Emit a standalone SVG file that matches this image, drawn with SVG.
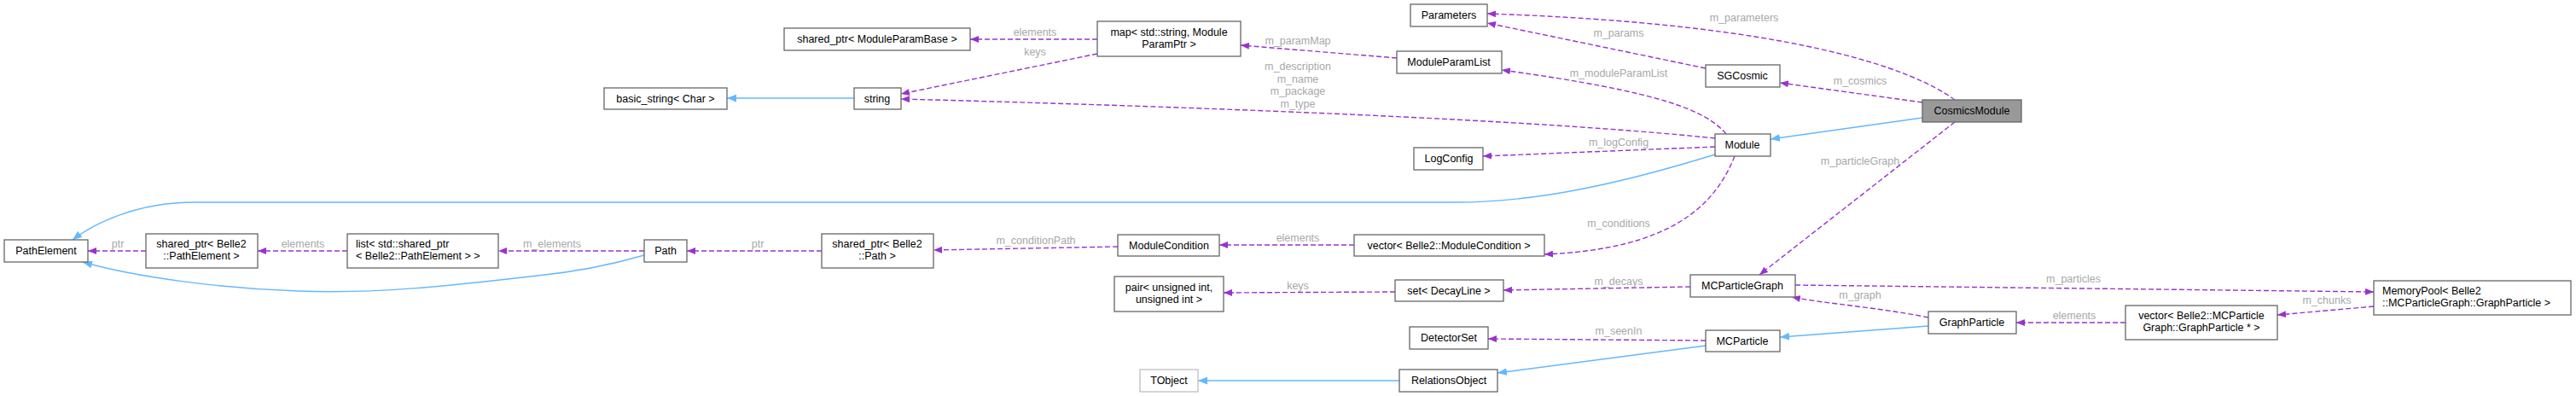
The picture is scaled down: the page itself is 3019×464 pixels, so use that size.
<svg xmlns="http://www.w3.org/2000/svg" width="3019" height="464" viewBox="0 0 3019 464">
<style>
.n rect{fill:#fff;stroke:#666;stroke-width:1.3}
.n text{font-family:"Liberation Sans",Arial,sans-serif;font-size:12.5px;fill:#000;text-anchor:middle}
.n text.l{text-anchor:start}
.d{fill:none;stroke:#9a32cd;stroke-width:1.4;stroke-dasharray:6,3;marker-end:url(#ad)}
.b{fill:none;stroke:#63b8ff;stroke-width:1.4;marker-end:url(#ab)}
.lb{font-family:"Liberation Sans",Arial,sans-serif;font-size:12.5px;fill:#a8a8a8;text-anchor:middle}
</style>
<defs>
<marker id="ad" viewBox="0 0 10 8" refX="10" refY="4" markerWidth="10" markerHeight="8" markerUnits="userSpaceOnUse" orient="auto"><path d="M0,0L10,4L0,8z" fill="#9a32cd"/></marker>
<marker id="ab" viewBox="0 0 10 8" refX="10" refY="4" markerWidth="11" markerHeight="9" markerUnits="userSpaceOnUse" orient="auto"><path d="M0,0L10,4L0,8z" fill="#63b8ff"/></marker>
</defs>
<rect width="3019" height="464" fill="#fff"/>
<g id="connectors">
<path class="b" d="M2253,138 L2075,163"/>
<path class="b" d="M2010,181 C1900,215 1800,237 1708,237 L228,237 C160,237 110,262 85,281"/>
<path class="b" d="M755,299 C700,315 660,320 630,323 C550,332 450,345 349,341 C260,338 160,325 97,307"/>
<path class="b" d="M1001,115 L852,115"/>
<path class="b" d="M1999,405 L1755,437"/>
<path class="b" d="M1640,446 L1404,446"/>
<path class="b" d="M2260,382 L2086,395"/>
<path class="d" d="M171,294 L103,294"/>
<path class="d" d="M407,294 L302,294"/>
<path class="d" d="M755,294 L584,294"/>
<path class="d" d="M963,294 L805,294"/>
<path class="d" d="M1310,289 L1094,293"/>
<path class="d" d="M1587,287 L1429,287"/>
<path class="d" d="M2033,183 C2010,240 1960,292 1810,298"/>
<path class="d" d="M1286,46 L1137,46"/>
<path class="d" d="M1286,63 L1056,110"/>
<path class="d" d="M1637,68 L1454,53"/>
<path class="d" d="M2010,162 C1800,140 1400,125 1056,116"/>
<path class="d" d="M2023,157 C2000,130 1950,108 1760,82"/>
<path class="d" d="M2010,172 L1738,183"/>
<path class="d" d="M1999,80 L1743,27"/>
<path class="d" d="M2291,117 C2240,80 2100,28 1743,16"/>
<path class="d" d="M2253,120 L2086,97"/>
<path class="d" d="M2291,143 L2062,322"/>
<path class="d" d="M1981,336 L1762,340"/>
<path class="d" d="M1635,342 L1434,343"/>
<path class="d" d="M2104,334 L2782,342"/>
<path class="d" d="M2782,359 L2669,369"/>
<path class="d" d="M2491,378 L2363,378"/>
<path class="d" d="M2260,372 C2200,360 2140,356 2100,348"/>
<path class="d" d="M1999,399 L1744,397"/>
<text class="lb" x="138" y="290">ptr</text>
<text class="lb" x="355" y="290">elements</text>
<text class="lb" x="647" y="290">m_elements</text>
<text class="lb" x="888" y="290">ptr</text>
<text class="lb" x="1214" y="286">m_conditionPath</text>
<text class="lb" x="1521" y="283">elements</text>
<text class="lb" x="1897" y="266">m_conditions</text>
<text class="lb" x="1213" y="42">elements</text>
<text class="lb" x="1213" y="65">keys</text>
<text class="lb" x="1521" y="52">m_paramMap</text>
<text class="lb" x="1521" y="82">m_description</text>
<text class="lb" x="1521" y="97">m_name</text>
<text class="lb" x="1521" y="111">m_package</text>
<text class="lb" x="1521" y="126">m_type</text>
<text class="lb" x="1897" y="90">m_moduleParamList</text>
<text class="lb" x="1897" y="171">m_logConfig</text>
<text class="lb" x="1897" y="43">m_params</text>
<text class="lb" x="2044" y="25">m_parameters</text>
<text class="lb" x="2180" y="99">m_cosmics</text>
<text class="lb" x="2180" y="193">m_particleGraph</text>
<text class="lb" x="1897" y="334">m_decays</text>
<text class="lb" x="1521" y="339">keys</text>
<text class="lb" x="2430" y="331">m_particles</text>
<text class="lb" x="2727" y="356">m_chunks</text>
<text class="lb" x="2431" y="374">elements</text>
<text class="lb" x="2180" y="350">m_graph</text>
<text class="lb" x="1897" y="392">m_seenIn</text>
</g>
<g id="PathElement" class="n"><rect x="5" y="281" width="98" height="26"/><text x="54" y="298">PathElement</text></g>
<g id="spPathElement" class="n"><rect x="171" y="274" width="131" height="40"/><text x="236" y="290">shared_ptr&lt; Belle2</text><text x="236" y="304">::PathElement &gt;</text></g>
<g id="listPathElement" class="n"><rect x="407" y="274" width="177" height="40"/><text class="l" x="417" y="290">list&lt; std::shared_ptr</text><text class="l" x="417" y="304">&lt; Belle2::PathElement &gt; &gt;</text></g>
<g id="basic_string" class="n"><rect x="708" y="103" width="144" height="25"/><text x="780" y="120">basic_string&lt; Char &gt;</text></g>
<g id="string" class="n"><rect x="1001" y="103" width="55" height="25"/><text x="1028" y="120">string</text></g>
<g id="spModuleParamBase" class="n"><rect x="919" y="33" width="218" height="26"/><text x="1028" y="50">shared_ptr&lt; ModuleParamBase &gt;</text></g>
<g id="map" class="n"><rect x="1286" y="25" width="168" height="41"/><text x="1370" y="42">map&lt; std::string, Module</text><text x="1370" y="56">ParamPtr &gt;</text></g>
<g id="Path" class="n"><rect x="755" y="281" width="50" height="26"/><text x="780" y="298">Path</text></g>
<g id="spPath" class="n"><rect x="963" y="274" width="131" height="40"/><text x="1028" y="290">shared_ptr&lt; Belle2</text><text x="1028" y="304">::Path &gt;</text></g>
<g id="ModuleCondition" class="n"><rect x="1310" y="275" width="119" height="25"/><text x="1370" y="292">ModuleCondition</text></g>
<g id="pair" class="n"><rect x="1306" y="324" width="128" height="41"/><text x="1370" y="341">pair&lt; unsigned int,</text><text x="1370" y="355">unsigned int &gt;</text></g>
<g id="TObject" class="n"><rect x="1336" y="433" width="68" height="26" style="stroke:#bfbfbf"/><text x="1370" y="450">TObject</text></g>
<g id="Parameters" class="n"><rect x="1653" y="5" width="90" height="26"/><text x="1698" y="22">Parameters</text></g>
<g id="ModuleParamList" class="n"><rect x="1637" y="60" width="123" height="26"/><text x="1698" y="77">ModuleParamList</text></g>
<g id="LogConfig" class="n"><rect x="1657" y="173" width="81" height="26"/><text x="1698" y="190">LogConfig</text></g>
<g id="vectorModuleCondition" class="n"><rect x="1587" y="275" width="223" height="25"/><text x="1698" y="292">vector&lt; Belle2::ModuleCondition &gt;</text></g>
<g id="setDecayLine" class="n"><rect x="1635" y="328" width="127" height="25"/><text x="1698" y="345">set&lt; DecayLine &gt;</text></g>
<g id="DetectorSet" class="n"><rect x="1652" y="383" width="92" height="26"/><text x="1698" y="400">DetectorSet</text></g>
<g id="RelationsObject" class="n"><rect x="1640" y="433" width="115" height="26"/><text x="1698" y="450">RelationsObject</text></g>
<g id="SGCosmic" class="n"><rect x="1999" y="76" width="87" height="26"/><text x="2042" y="93">SGCosmic</text></g>
<g id="Module" class="n"><rect x="2010" y="157" width="65" height="26"/><text x="2042" y="174">Module</text></g>
<g id="MCParticleGraph" class="n"><rect x="1981" y="322" width="123" height="26"/><text x="2042" y="339">MCParticleGraph</text></g>
<g id="MCParticle" class="n"><rect x="1999" y="387" width="87" height="25"/><text x="2042" y="404">MCParticle</text></g>
<g id="CosmicsModule" class="n"><rect x="2253" y="117" width="116" height="26" style="fill:#999"/><text x="2311" y="134">CosmicsModule</text></g>
<g id="GraphParticle" class="n"><rect x="2260" y="365" width="103" height="26"/><text x="2311" y="382">GraphParticle</text></g>
<g id="vectorGraphParticle" class="n"><rect x="2491" y="358" width="178" height="40"/><text x="2580" y="374">vector&lt; Belle2::MCParticle</text><text x="2580" y="388">Graph::GraphParticle * &gt;</text></g>
<g id="MemoryPool" class="n"><rect x="2782" y="329" width="231" height="40"/><text class="l" x="2792" y="345">MemoryPool&lt; Belle2</text><text class="l" x="2792" y="359">::MCParticleGraph::GraphParticle &gt;</text></g>
</svg>
